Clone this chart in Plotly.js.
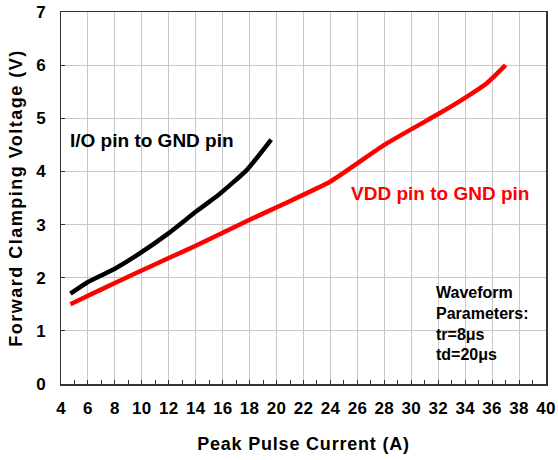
<!DOCTYPE html>
<html>
<head>
<meta charset="utf-8">
<script src="https://cdn.plot.ly/plotly-3.0.1.min.js"></script>
<style>
html, body { margin: 0; padding: 0; background: #fff; }
#chart { width: 558px; height: 460px; }
.g-xtitle text { letter-spacing: 0.8px; }
.g-ytitle text { letter-spacing: 1.5px; }
.xtick text, .ytick text { letter-spacing: 0.3px; }
</style>
</head>
<body>
<div id="chart"></div>
<script>
// I/O pin to GND pin
const ioCurrent = [4.7, 6, 8, 9.5, 12, 14, 15.7, 17.8, 19.6];
const ioVoltage = [1.70, 1.92, 2.17, 2.40, 2.84, 3.24, 3.56, 4.03, 4.60];
// VDD pin to GND pin
const vddCurrent = [4.7, 6, 8, 9.5, 12, 14, 18, 20.3, 24, 28, 32, 33.4, 35.6, 37];
const vddVoltage = [1.50, 1.66, 1.90, 2.08, 2.37, 2.60, 3.09, 3.36, 3.81, 4.50, 5.08, 5.29, 5.66, 6.00];

const xTickVals = [4, 6, 8, 10, 12, 14, 16, 18, 20, 22, 24, 26, 28, 30, 32, 34, 36, 38, 40];
const yTickVals = [0, 1, 2, 3, 4, 5, 6, 7];

const ioLabel = 'I/O pin to GND pin';
const vddLabel = 'VDD pin to GND pin';
const waveformLabel = 'Waveform<br>Parameters:<br>tr=8\u03bcs<br>td=20\u03bcs';
const xTitle = 'Peak Pulse Current (A)';
const yTitle = 'Forward Clamping Voltage (V)';

const FONT = 'Arial, "Liberation Sans", sans-serif';

const traces = [
  { x: ioCurrent, y: ioVoltage, type: 'scatter', mode: 'lines',
    line: { color: '#000000', width: 4.5, shape: 'spline', smoothing: 0.5 }, showlegend: false, hoverinfo: 'skip' },
  { x: vddCurrent, y: vddVoltage, type: 'scatter', mode: 'lines',
    line: { color: '#ff0000', width: 4.5, shape: 'spline', smoothing: 0.5 }, showlegend: false, hoverinfo: 'skip' }
];

const layout = {
  width: 558, height: 460,
  margin: { l: 61, r: 12, t: 12, b: 76 },
  paper_bgcolor: '#ffffff', plot_bgcolor: '#ffffff',
  font: { family: FONT, color: '#000000' },
  xaxis: {
    range: [4, 40], tickvals: xTickVals, ticktext: xTickVals.map(String),
    showgrid: true, gridcolor: '#c8c8c8', gridwidth: 1,
    showline: true, linecolor: '#333333', linewidth: 1.5, mirror: true,
    ticks: 'inside', ticklen: 4, tickcolor: '#333333', tickwidth: 1,
    minor: { dtick: 1, ticks: 'inside', ticklen: 4, tickcolor: '#333333', showgrid: false },
    zeroline: false, ticklabelstandoff: 8,
    tickfont: { family: FONT, size: 17, weight: 'bold', color: '#000000' },
    title: { text: xTitle, standoff: 20, font: { family: FONT, size: 18, weight: 'bold', color: '#000000' } }
  },
  yaxis: {
    range: [0, 7], tickvals: yTickVals, ticktext: yTickVals.map(String),
    showgrid: true, gridcolor: '#c8c8c8', gridwidth: 1,
    showline: true, linecolor: '#333333', linewidth: 1.5, mirror: true,
    ticks: 'inside', ticklen: 4, tickcolor: '#333333', tickwidth: 1,
    zeroline: false, ticklabelstandoff: 10,
    tickfont: { family: FONT, size: 17, weight: 'bold', color: '#000000' },
    title: { text: yTitle, standoff: 9, font: { family: FONT, size: 18, weight: 'bold', color: '#000000' } }
  },
  annotations: [
    { text: ioLabel, xref: 'x', yref: 'y', x: 4.5, y: 4.58, xanchor: 'left', yanchor: 'middle',
      showarrow: false, font: { family: FONT, size: 19, weight: 'bold', color: '#000000' } },
    { text: vddLabel, xref: 'x', yref: 'y', x: 25.35, y: 3.58, xanchor: 'left', yanchor: 'middle',
      showarrow: false, font: { family: FONT, size: 19, weight: 'bold', color: '#ff0000' } },
    { text: waveformLabel, xref: 'x', yref: 'y', x: 31.7, y: 1.14, xanchor: 'left', yanchor: 'middle',
      align: 'left', showarrow: false, font: { family: FONT, size: 16, weight: 'bold', color: '#000000' } }
  ]
};

Plotly.newPlot('chart', traces, layout, { displayModeBar: false, staticPlot: true });
</script>
</body>
</html>
